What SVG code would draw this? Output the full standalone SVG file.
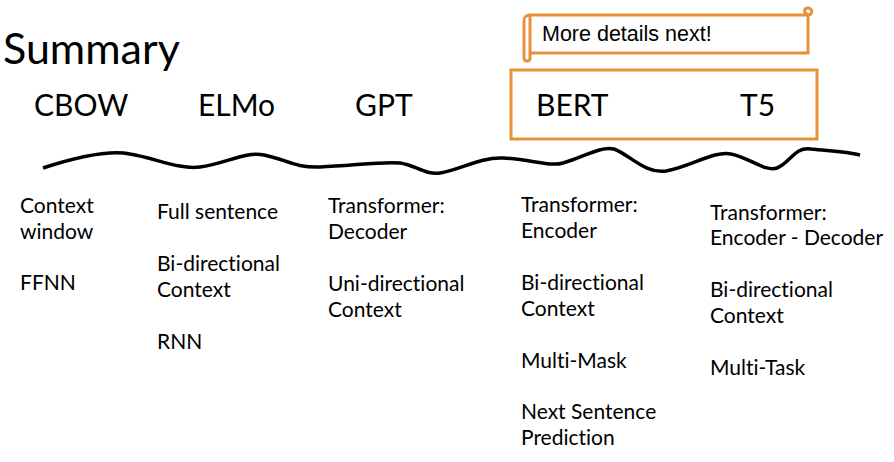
<svg xmlns="http://www.w3.org/2000/svg" width="894" height="462" viewBox="0 0 894 462">
<style>
text{font-family:Lato,"Open Sans",sans-serif;fill:#000;font-variant-ligatures:none;font-feature-settings:"liga" 0,"clig" 0,"dlig" 0}
.title{font-size:43px}
.head{font-size:30px}
.body{font-size:21px}
.note{font-family:"Liberation Sans",Arial,sans-serif;font-size:21.5px}
.or{fill:none;stroke:#E8913A;stroke-width:3}
</style>
<rect width="894" height="462" fill="#fff"/>
<text class="title" x="3" y="64">Summary</text>
<g id="scroll">
<path class="or" d="M530,15 H808 V53 H530" fill="#fff"/>
<path class="or" d="M530,15 C524,15 524,19 524,22 V58 C524,62 530,62 530,58 V15"/>
<path class="or" d="M808,15 C813,15 813,8 808,8 C804,8 803,13 808,15 Z" fill="#E8913A"/>
<text class="note" x="542" y="41">More details next!</text>
</g>
<g id="highlight"><rect class="or" x="511" y="70" width="306" height="69"/></g>
<g id="cbow">
<text class="head" x="34" y="116">CBOW</text>
<text class="body" x="20" y="213">Context</text>
<text class="body" x="20" y="239">window</text>
<text class="body" x="20" y="290">FFNN</text>
</g>
<g id="elmo">
<text class="head" x="198" y="116">ELMo</text>
<text class="body" x="157" y="219">Full sentence</text>
<text class="body" x="157" y="271">Bi-directional</text>
<text class="body" x="157" y="297">Context</text>
<text class="body" x="157" y="349">RNN</text>
</g>
<g id="gpt">
<text class="head" x="355" y="116">GPT</text>
<text class="body" x="328" y="213">Transformer:</text>
<text class="body" x="328" y="239">Decoder</text>
<text class="body" x="328" y="291">Uni-directional</text>
<text class="body" x="328" y="317">Context</text>
</g>
<g id="bert">
<text class="head" x="536" y="116">BERT</text>
<text class="body" x="521" y="212">Transformer:</text>
<text class="body" x="521" y="238">Encoder</text>
<text class="body" x="521" y="290">Bi-directional</text>
<text class="body" x="521" y="316">Context</text>
<text class="body" x="521" y="368">Multi-Mask</text>
<text class="body" x="521" y="419">Next Sentence</text>
<text class="body" x="521" y="445">Prediction</text>
</g>
<g id="t5">
<text class="head" x="740" y="116">T5</text>
<text class="body" x="710" y="220">Transformer:</text>
<text class="body" x="710" y="245">Encoder - Decoder</text>
<text class="body" x="710" y="297">Bi-directional</text>
<text class="body" x="710" y="323">Context</text>
<text class="body" x="710" y="375">Multi-Task</text>
</g>
<g id="connectors">
<path d="M43,168 C80,156 110,150 130,154 C155,158 180,170 200,167 C225,164 245,151 264,155 C285,159 295,168 320,167 C350,166 385,161 400,163 C415,165 425,175 440,173 C460,170 480,157 503,158 C530,159 550,167 563,163 C582,158 600,146 614,149 C630,155 645,174 666,171 C690,167 715,150 731,154 C750,158 765,172 777,168 C790,163 795,146 811,149 C830,151 845,151 860,155" fill="none" stroke="#000" stroke-width="3.5"/>
</g>
</svg>
